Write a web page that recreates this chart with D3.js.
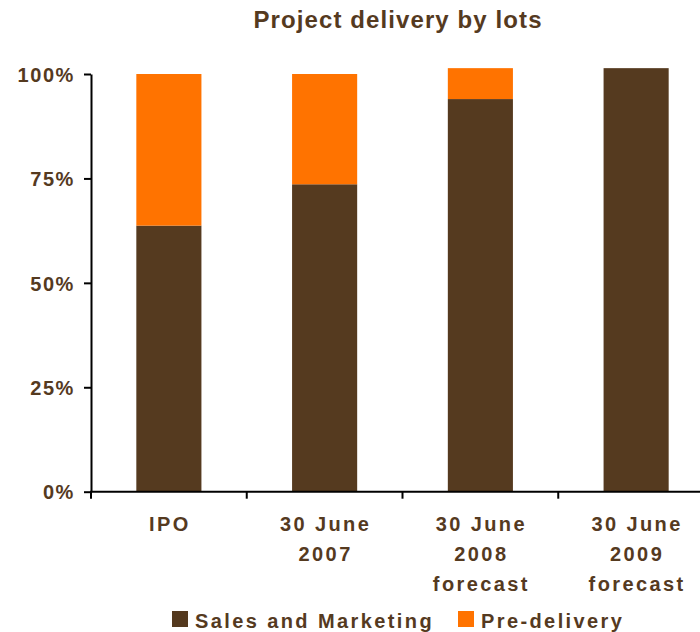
<!DOCTYPE html>
<html>
<head>
<meta charset="utf-8">
<script src="https://cdn.jsdelivr.net/npm/d3@7"></script>
<style>
  body { margin: 0; background: #fff; }
  text { font-family: "Liberation Sans", Arial, sans-serif; font-weight: bold; fill: #553a1f; }
</style>
</head>
<body>
<svg id="chart"></svg>
<script>
// datos del gráfico
const categories = [["IPO"], ["30 June", "2007"], ["30 June", "2008", "forecast"], ["30 June", "2009", "forecast"]];
const salesMarketing = [63.7, 73.6, 94.0, 101.4];
const preDelivery = [36.3, 26.4, 7.4, 0];
const yTicks = [0, 25, 50, 75, 100];
const seriesNames = ["Sales and Marketing", "Pre-delivery"];
const colors = ["#553a1f", "#ff7300"];

const width = 700, height = 632;
const svg = d3.select("#chart").attr("width", width).attr("height", height);

const x = d3.scaleBand().domain(d3.range(categories.length)).range([91, 714]).padding(0);
const y = d3.scaleLinear().domain([0, 100]).range([491.7, 74]);
const barW = x.bandwidth() * 0.418;

// título
svg.append("text")
  .attr("x", 398).attr("y", 28)
  .attr("text-anchor", "middle")
  .style("font-size", "24px")
  .style("letter-spacing", "1.1px")
  .text("Project delivery by lots");

// barras apiladas
const stacked = d3.stack().keys([0, 1])(categories.map((c, i) => ({ 0: salesMarketing[i], 1: preDelivery[i] })));
svg.append("g").selectAll("g")
  .data(stacked)
  .enter().append("g")
  .attr("fill", (d, i) => colors[i])
  .selectAll("rect")
  .data(d => d)
  .enter().append("rect")
  .attr("x", (d, i) => x(i) + (x.bandwidth() - barW) / 2)
  .attr("width", barW)
  .attr("y", d => y(d[1]))
  .attr("height", d => y(d[0]) - y(d[1]));

// eje Y
const yAxis = svg.append("g")
  .attr("transform", "translate(91,0)")
  .call(d3.axisLeft(y).tickValues(yTicks).tickSize(7).tickSizeOuter(0).tickFormat(d => d + "%"));
yAxis.select(".domain").attr("stroke", "#000").attr("stroke-width", 2);
yAxis.selectAll(".tick line").attr("stroke", "#000").attr("stroke-width", 2);
yAxis.selectAll(".tick text")
  .attr("x", -16)
  .attr("dy", "0.36em")
  .style("font-size", "20px")
  .style("letter-spacing", "1.6px")
  .style("fill", "#553a1f");

// eje X
const xAxis = svg.append("g");
xAxis.append("line")
  .attr("x1", 90).attr("x2", width)
  .attr("y1", y(0)).attr("y2", y(0))
  .attr("stroke", "#000").attr("stroke-width", 2);
xAxis.selectAll(".xtick")
  .data(d3.range(categories.length + 1))
  .enter().append("line")
  .attr("class", "xtick")
  .attr("x1", d => d < categories.length ? x(d) : x(d - 1) + x.bandwidth())
  .attr("x2", d => d < categories.length ? x(d) : x(d - 1) + x.bandwidth())
  .attr("y1", y(0)).attr("y2", y(0) + 7)
  .attr("stroke", "#000").attr("stroke-width", 2);

const labels = xAxis.selectAll(".xlabel")
  .data(categories)
  .enter().append("text")
  .attr("class", "xlabel")
  .attr("text-anchor", "middle")
  .style("font-size", "20px")
  .style("letter-spacing", "2.4px");
labels.selectAll("tspan")
  .data((d, i) => d.map(t => ({ t, i })))
  .enter().append("tspan")
  .attr("x", d => x(d.i) + x.bandwidth() / 2 + 1)
  .attr("y", (d, j) => 531 + j * 30)
  .text(d => d.t);

// leyenda
const legendPos = [172, 458];
const legend = svg.append("g").selectAll("g")
  .data(seriesNames)
  .enter().append("g")
  .attr("transform", (d, i) => `translate(${legendPos[i]},0)`);
legend.append("rect")
  .attr("x", 0).attr("y", 611)
  .attr("width", 16).attr("height", 16)
  .attr("fill", (d, i) => colors[i]);
legend.append("text")
  .attr("x", 23).attr("y", 628)
  .style("font-size", "20px")
  .style("letter-spacing", "2.4px")
  .text(d => d);
</script>
</body>
</html>
